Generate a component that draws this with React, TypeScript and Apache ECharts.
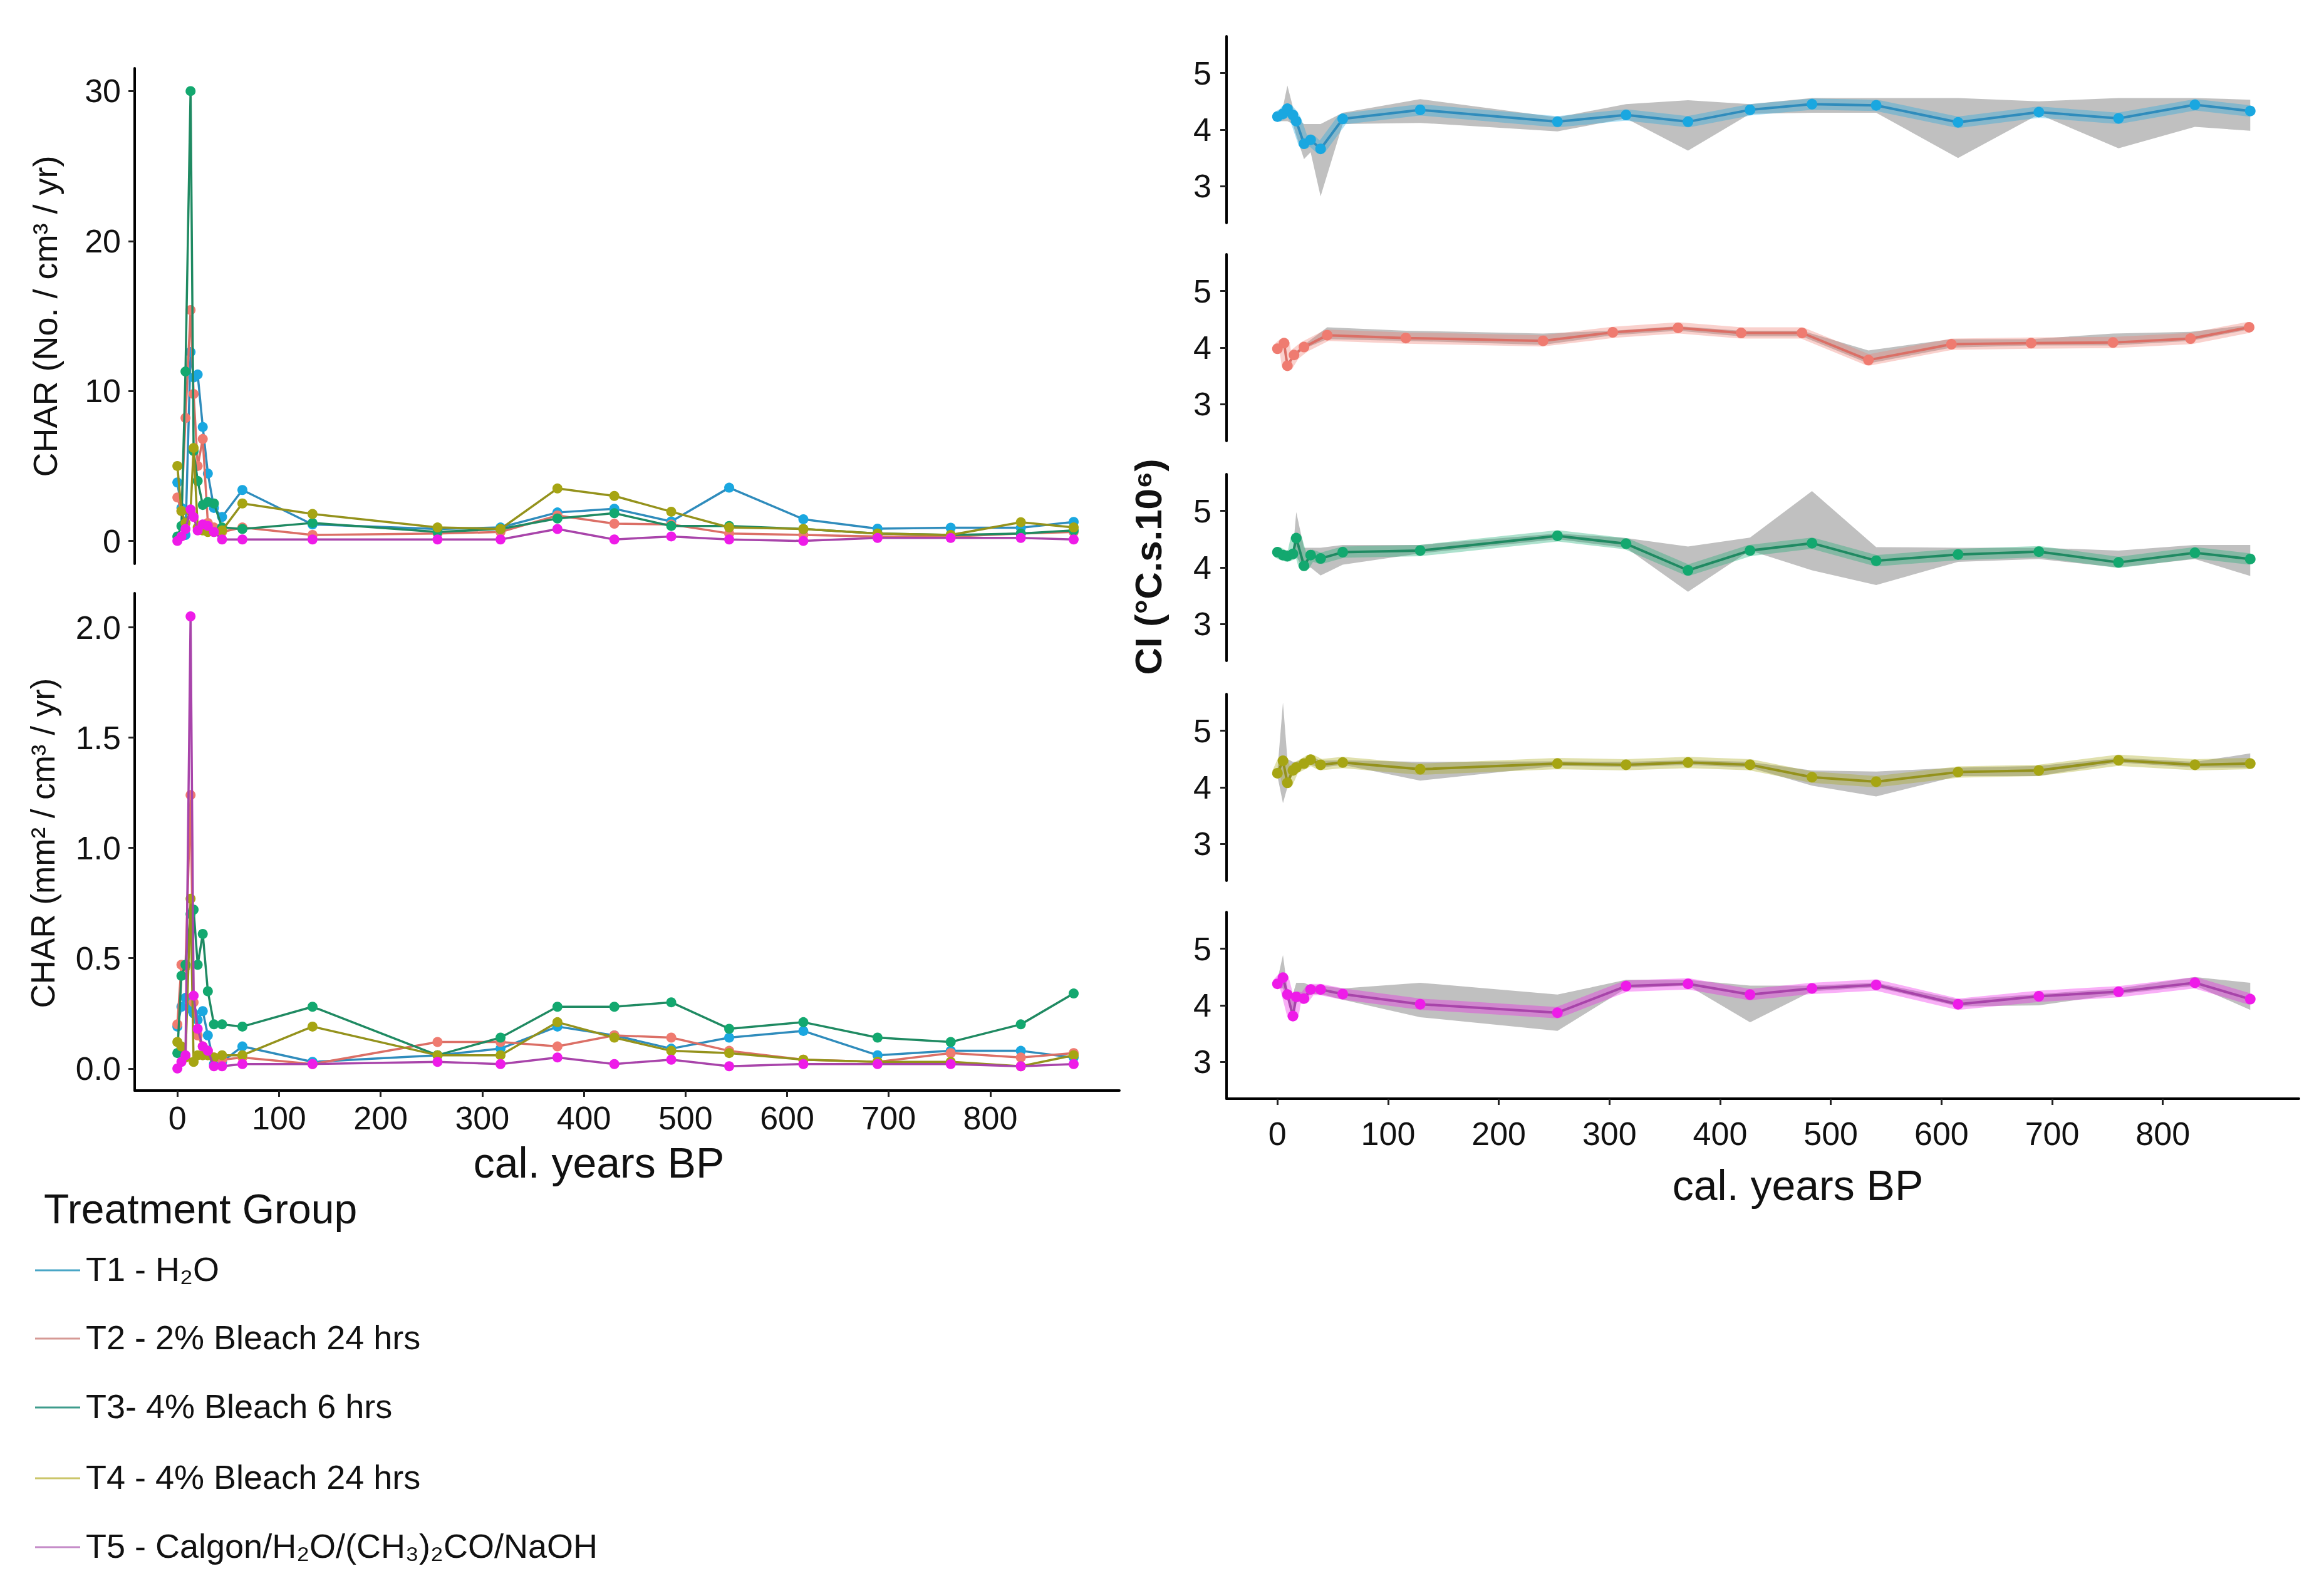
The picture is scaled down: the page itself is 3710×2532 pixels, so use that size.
import React, { useEffect, useRef } from "react";
import * as echarts from "echarts";

// treatment groups (legend order)
const groups = [
  "T1 - H₂O",
  "T2 - 2% Bleach 24 hrs",
  "T3- 4% Bleach 6 hrs",
  "T4 - 4% Bleach 24 hrs",
  "T5 - Calgon/H₂O/(CH₃)₂CO/NaOH",
];
const pointColors = ["#1aa7e0", "#ef7b70", "#13a86f", "#a6a513", "#ee1be8"];
const lineColors = ["#2f8cbc", "#db6f66", "#1f8a62", "#94921c", "#a844aa"];
const legendColors = ["#49a6c6", "#d69a95", "#3e9c8c", "#cbc66a", "#c58bc8"];

// left panels: charcoal accumulation rates
const charAges = [0, 4, 8, 13, 16, 20, 25, 30, 36, 44, 64, 133, 256, 318, 374, 430, 486, 543, 616, 689, 761, 830, 882];

const charNumT1 = [3.9, 2.2, 0.4, 12.6, 10.9, 11.1, 7.6, 4.5, 2.2, 1.6, 3.4, 1.1, 0.8, 0.9, 1.9, 2.15, 1.3, 3.55, 1.45, 0.82, 0.88, 0.88, 1.27];
const charNumT2 = [2.9, 2.0, 8.2, 15.4, 9.8, 5.0, 6.8, 1.2, 0.9, 0.6, 0.9, 0.4, 0.5, 0.6, 1.7, 1.15, 1.1, 0.5, 0.4, 0.3, 0.3, 0.5, 0.6];
const charNumT3 = [0.3, 1.0, 11.3, 30.0, 6.0, 4.0, 2.4, 2.6, 2.5, 0.9, 0.8, 1.2, 0.6, 0.8, 1.5, 1.85, 1.0, 1.0, 0.8, 0.5, 0.4, 0.5, 0.7];
const charNumT4 = [5.0, 2.0, 1.2, 2.0, 6.2, 0.9, 0.7, 0.6, 0.6, 0.7, 2.5, 1.8, 0.9, 0.8, 3.5, 3.0, 1.95, 0.9, 0.8, 0.5, 0.4, 1.25, 0.9];
const charNumT5 = [0.0, 0.3, 0.8, 2.1, 1.6, 0.7, 1.1, 1.0, 0.6, 0.1, 0.1, 0.1, 0.1, 0.1, 0.8, 0.1, 0.3, 0.1, 0.0, 0.2, 0.2, 0.2, 0.1];

const charAreaT1 = [0.19, 0.28, 0.32, 0.27, 0.25, 0.22, 0.26, 0.15, 0.02, 0.03, 0.1, 0.03, 0.06, 0.09, 0.19, 0.15, 0.09, 0.14, 0.17, 0.06, 0.08, 0.08, 0.05];
const charAreaT2 = [0.2, 0.47, 0.46, 1.24, 0.3, 0.15, 0.1, 0.08, 0.05, 0.04, 0.05, 0.02, 0.12, 0.12, 0.1, 0.15, 0.14, 0.08, 0.04, 0.03, 0.07, 0.05, 0.07];
const charAreaT3 = [0.07, 0.42, 0.47, 0.7, 0.72, 0.47, 0.61, 0.35, 0.2, 0.2, 0.19, 0.28, 0.06, 0.14, 0.28, 0.28, 0.3, 0.18, 0.21, 0.14, 0.12, 0.2, 0.34];
const charAreaT4 = [0.12, 0.1, 0.05, 0.77, 0.03, 0.06, 0.06, 0.06, 0.05, 0.06, 0.06, 0.19, 0.06, 0.06, 0.21, 0.14, 0.08, 0.07, 0.04, 0.03, 0.03, 0.01, 0.06];
const charAreaT5 = [0.0, 0.03, 0.06, 2.05, 0.33, 0.18, 0.1, 0.08, 0.01, 0.01, 0.02, 0.02, 0.03, 0.02, 0.05, 0.02, 0.04, 0.01, 0.02, 0.02, 0.02, 0.01, 0.02];

// right panels: charcoal index (mean with range)
const ciAges = [0, 5, 9, 14, 17, 24, 30, 39, 59, 129, 253, 315, 371, 427, 483, 541, 615, 688, 760, 829, 879];
const ciAgesT2 = [0, 6, 9, 15, 24, 45, 116, 240, 303, 362, 419, 474, 534, 609, 681, 755, 825, 878];

const ciMeanT1 = [4.23, 4.28, 4.37, 4.26, 4.15, 3.75, 3.82, 3.66, 4.19, 4.35, 4.14, 4.26, 4.14, 4.35, 4.45, 4.43, 4.13, 4.31, 4.2, 4.44, 4.33];
const ciLowT1 = [4.15, 4.15, 4.15, 4.1, 3.9, 3.48, 3.6, 2.82, 4.1, 4.12, 3.97, 4.2, 3.63, 4.28, 4.3, 4.3, 3.5, 4.27, 3.67, 4.05, 3.98];
const ciHighT1 = [4.3, 4.4, 4.78, 4.4, 4.2, 4.1, 4.1, 4.1, 4.3, 4.54, 4.22, 4.45, 4.52, 4.45, 4.56, 4.56, 4.56, 4.5, 4.56, 4.56, 4.53];

const ciMeanT2 = [3.98, 4.08, 3.68, 3.87, 4.01, 4.22, 4.17, 4.12, 4.27, 4.35, 4.26, 4.26, 3.78, 4.06, 4.08, 4.09, 4.16, 4.36];
const ciLowT2 = [3.95, 4.03, 3.64, 3.84, 3.98, 4.15, 4.12, 4.05, 4.22, 4.3, 4.2, 4.2, 3.72, 4.0, 4.04, 4.04, 4.12, 4.32];
const ciHighT2 = [4.02, 4.1, 3.72, 3.9, 4.05, 4.36, 4.3, 4.25, 4.3, 4.38, 4.3, 4.3, 3.95, 4.15, 4.15, 4.25, 4.28, 4.4];

const ciMeanT3 = [4.27, 4.22, 4.2, 4.24, 4.52, 4.03, 4.22, 4.16, 4.27, 4.3, 4.56, 4.42, 3.95, 4.3, 4.43, 4.12, 4.23, 4.28, 4.09, 4.26, 4.15];
const ciLowT3 = [4.2, 4.15, 4.15, 4.15, 4.2, 3.95, 4.0, 3.86, 4.05, 4.25, 4.5, 4.35, 3.57, 4.3, 3.95, 3.69, 4.1, 4.15, 4.0, 4.15, 3.85];
const ciHighT3 = [4.3, 4.3, 4.3, 4.3, 4.98, 4.35, 4.35, 4.35, 4.4, 4.4, 4.6, 4.52, 4.37, 4.53, 5.35, 4.36, 4.35, 4.35, 4.3, 4.4, 4.4];

const ciMeanT4 = [4.25, 4.47, 4.08, 4.3, 4.35, 4.42, 4.49, 4.4, 4.44, 4.32, 4.42, 4.4, 4.44, 4.4, 4.18, 4.1, 4.27, 4.3, 4.48, 4.4, 4.42];
const ciLowT4 = [4.2, 3.72, 4.0, 4.25, 4.28, 4.35, 4.4, 4.35, 4.4, 4.12, 4.38, 4.36, 4.4, 4.35, 4.03, 3.84, 4.2, 4.2, 4.44, 4.35, 4.35];
const ciHighT4 = [4.3, 5.5, 4.5, 4.45, 4.45, 4.5, 4.55, 4.47, 4.48, 4.45, 4.46, 4.45, 4.48, 4.45, 4.3, 4.28, 4.35, 4.38, 4.52, 4.45, 4.6];

const ciMeanT5 = [4.38, 4.49, 4.19, 3.81, 4.15, 4.12, 4.28, 4.28, 4.2, 4.02, 3.87, 4.34, 4.38, 4.19, 4.3, 4.36, 4.02, 4.16, 4.24, 4.4, 4.11];
const ciLowT5 = [4.3, 4.3, 4.1, 3.75, 4.05, 4.08, 4.2, 4.2, 4.1, 3.79, 3.55, 4.3, 4.35, 3.7, 4.25, 4.32, 3.98, 4.0, 4.2, 4.35, 3.92];
const ciHighT5 = [4.45, 4.89, 4.3, 4.2, 4.4, 4.4, 4.35, 4.35, 4.3, 4.4, 4.19, 4.45, 4.45, 4.35, 4.35, 4.4, 4.1, 4.2, 4.3, 4.5, 4.4];

const yearTicks = [0, 100, 200, 300, 400, 500, 600, 700, 800];
const charNumTicks = [0, 10, 20, 30];
const charAreaTicks = [0, 0.5, 1, 1.5, 2];
const ciTicks = [3, 4, 5];

const FONT = "'Liberation Sans', Arial, Helvetica, sans-serif";

const charNum = [charNumT1, charNumT2, charNumT3, charNumT4, charNumT5];
const charArea = [charAreaT1, charAreaT2, charAreaT3, charAreaT4, charAreaT5];
const ciX = [ciAges, ciAgesT2, ciAges, ciAges, ciAges];
const ciMean = [ciMeanT1, ciMeanT2, ciMeanT3, ciMeanT4, ciMeanT5];
const ciLow = [ciLowT1, ciLowT2, ciLowT3, ciLowT4, ciLowT5];
const ciHigh = [ciHighT1, ciHighT2, ciHighT3, ciHighT4, ciHighT5];

const zip = (xs: number[], ys: number[]) => xs.map((x, i) => [x, ys[i]]);

const valueAxis = (gridIndex: number, min: number, max: number, ticks: number[] | null, margin: number, fmt?: (v: number) => string) => ({
  type: "value",
  gridIndex,
  min,
  max,
  splitLine: { show: false },
  axisLine: { show: !!ticks, onZero: false, lineStyle: { color: "#000", width: 4 } },
  axisTick: ticks
    ? { show: true, customValues: ticks, length: 10, lineStyle: { color: "#222", width: 3 } }
    : { show: false },
  axisLabel: ticks
    ? { show: true, customValues: ticks, margin, fontSize: 52, color: "#111", fontFamily: FONT, formatter: fmt }
    : { show: false },
});

const App = () => {
  const chartRef = useRef<HTMLDivElement>(null);

  useEffect(() => {
    document.body.style.margin = "0";
    const chart = echarts.init(chartRef.current as HTMLDivElement, undefined, { renderer: "svg" });

    const rightTops = [58, 406, 757, 1108, 1456];
    const grids: any[] = [
      { left: 215, top: 109, width: 1572, height: 791 },
      { left: 215, top: 947, width: 1572, height: 794 },
      ...rightTops.map((t) => ({ left: 1958, top: t, width: 1712, height: 298 })),
    ];

    const xAxes: any[] = [
      valueAxis(0, -42, 927, null, 0),
      valueAxis(1, -42, 927, yearTicks, 18),
      ...rightTops.map((_, i) => valueAxis(i + 2, -46, 923, i === 4 ? yearTicks : null, 30)),
    ];
    const yAxes: any[] = [
      valueAxis(0, -1.52, 31.52, charNumTicks, 22),
      valueAxis(1, -0.1, 2.155, charAreaTicks, 22, (v: number) => v.toFixed(1)),
      ...rightTops.map((_, i) => valueAxis(i + 2, 2.35, 5.65, ciTicks, 24)),
    ];

    const series: any[] = [];
    [0, 1].forEach((panel) => {
      const vals = panel === 0 ? charNum : charArea;
      vals.forEach((ys, i) => {
        series.push({
          type: "line",
          name: groups[i],
          xAxisIndex: panel,
          yAxisIndex: panel,
          data: zip(charAges, ys),
          symbol: "circle",
          symbolSize: 16,
          itemStyle: { color: pointColors[i] },
          lineStyle: { color: lineColors[i], width: 3.5 },
          z: 2 + i,
        });
      });
    });

    ciMean.forEach((mean, i) => {
      const xs = ciX[i];
      const lo = ciLow[i];
      const hi = ciHigh[i];
      const gi = i + 2;
      series.push({
        type: "custom",
        coordinateSystem: "cartesian2d",
        xAxisIndex: gi,
        yAxisIndex: gi,
        silent: true,
        z: 1,
        data: xs.map((x, j) => [x, lo[j], hi[j]]),
        encode: { x: 0, y: [1, 2] },
        renderItem: (params: any, api: any) => {
          if (params.dataIndex !== 0) return null;
          const upper = xs.map((x, j) => api.coord([x, hi[j]]));
          const lower = xs.map((x, j) => api.coord([x, lo[j]])).reverse();
          return {
            type: "polygon",
            shape: { points: upper.concat(lower) },
            style: { fill: "#bdbdbd", opacity: 0.95 },
          };
        },
      });
      series.push({
        type: "line",
        xAxisIndex: gi,
        yAxisIndex: gi,
        data: zip(xs, mean),
        symbol: "none",
        silent: true,
        lineStyle: { color: pointColors[i], width: 18, opacity: 0.35 },
        z: 2,
      });
      series.push({
        type: "line",
        name: groups[i],
        xAxisIndex: gi,
        yAxisIndex: gi,
        data: zip(xs, mean),
        symbol: "circle",
        symbolSize: 17,
        itemStyle: { color: pointColors[i] },
        lineStyle: { color: lineColors[i], width: 4 },
        z: 3,
      });
    });

    const txt = (x: number, y: number, text: string, size: number, extra: any = {}) => ({
      type: "text",
      x,
      y,
      z: 10,
      ...extra,
      style: {
        text,
        fontSize: size,
        fontFamily: FONT,
        fill: "#111",
        align: "center",
        verticalAlign: "middle",
        ...(extra.style || {}),
      },
    });

    const graphic: any[] = [
      txt(72, 505, "CHAR (No. / cm³ / yr)", 54, { rotation: Math.PI / 2 }),
      txt(68, 1346, "CHAR (mm² / cm³ / yr)", 53, { rotation: Math.PI / 2 }),
      txt(1833, 905, "CI (°C.s.10⁶)", 60, { rotation: Math.PI / 2, style: { fontWeight: "bold" } }),
      txt(956, 1856, "cal. years BP", 68),
      txt(2870, 1892, "cal. years BP", 68),
      txt(70, 1930, "Treatment Group", 66, { style: { align: "left" } }),
    ];
    const legendY = [2026, 2135, 2245, 2358, 2468];
    groups.forEach((g, i) => {
      graphic.push({
        type: "line",
        z: 10,
        shape: { x1: 56, y1: legendY[i] + 2, x2: 128, y2: legendY[i] + 2 },
        style: { stroke: legendColors[i], lineWidth: 3 },
      });
      graphic.push(txt(137, legendY[i], g, 54, { style: { align: "left" } }));
    });

    chart.setOption({
      animation: false,
      backgroundColor: "#fff",
      textStyle: { fontFamily: FONT },
      grid: grids,
      xAxis: xAxes,
      yAxis: yAxes,
      series,
      graphic,
    });

    return () => {
      chart.dispose();
    };
  }, []);

  return <div ref={chartRef} style={{ width: "3710px", height: "2532px" }} />;
};

export default App;
